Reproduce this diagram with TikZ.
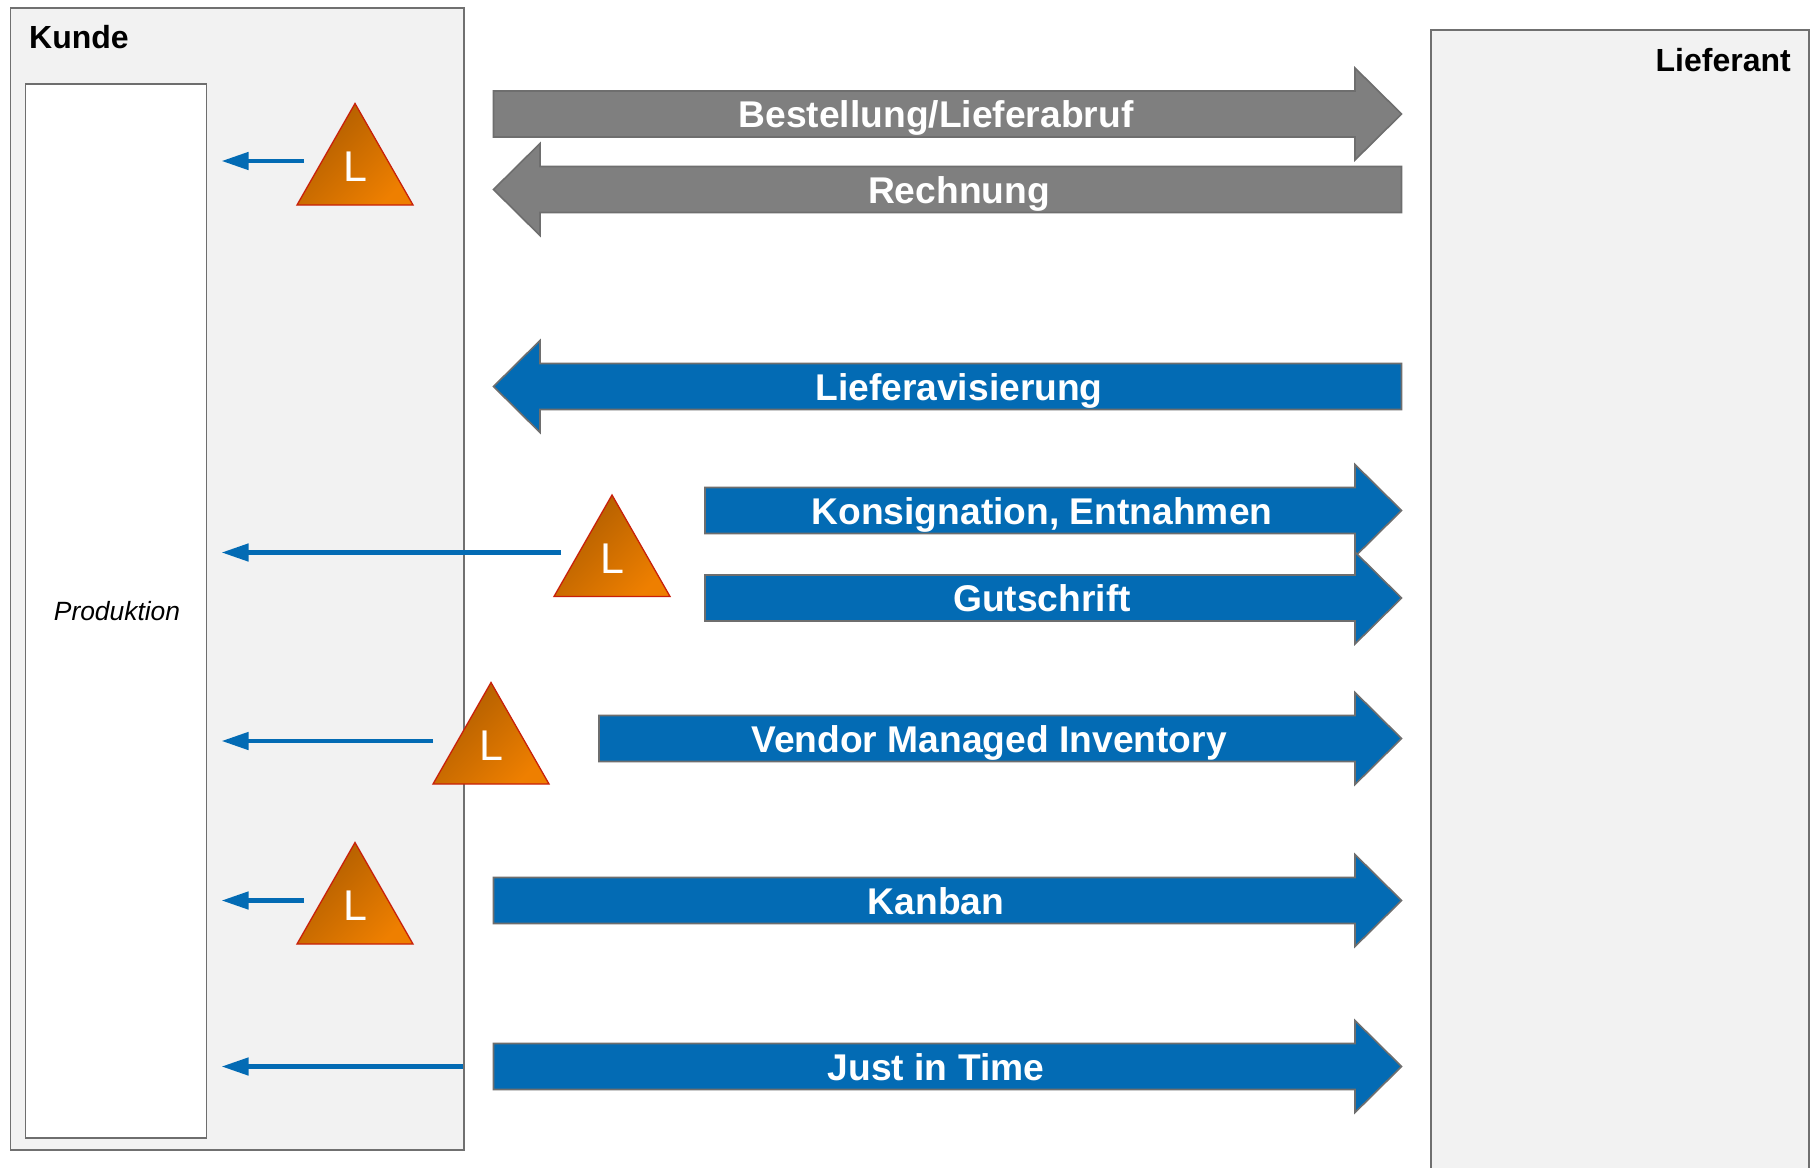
\documentclass[tikz,border=0pt]{standalone}
\usepackage{fontspec}
\setmainfont{Liberation Sans}
\usetikzlibrary{arrows.meta}
\definecolor{blk}{HTML}{036BB4}
\definecolor{gry}{HTML}{7F7F7F}
\definecolor{edge}{HTML}{6E6E6E}
\definecolor{panel}{HTML}{F2F2F2}
\definecolor{tridark}{HTML}{AD5C00}
\definecolor{trilight}{HTML}{EE7F00}
\definecolor{triedge}{HTML}{C8200A}
\tikzset{
  panelbox/.style={draw=edge!90!gray,line width=1.8pt,fill=panel},
  blockshape/.style={draw=edge,line width=1.6pt,line join=miter,fill=#1},
  blocklabel/.style={text=white,font=\bfseries\fontsize{37.2}{37}\selectfont,anchor=base,inner sep=0pt},
  titlelabel/.style={text=black,font=\bfseries\fontsize{32}{32}\selectfont,inner sep=0pt,anchor=base},
  trilabel/.style={text=white,font=\fontsize{43}{43}\selectfont,inner sep=0pt,anchor=base},
  flow/.style={draw=blk,fill=blk,line width=4.5pt,-{Triangle[length=27pt,width=17pt]}},
  trishape/.style={draw=triedge,line width=1.3pt,line join=miter,left color=tridark,right color=trilight,shading angle=45}
}
% right-pointing block arrow: #1 name, #2 colour, #3 x0, #4 x1, #5 yc, #6 label x, #7 text
\newcommand{\blockright}[7]{%
  \path[blockshape=#2] (#3,#5-23) -- (#4-46.5,#5-23) -- (#4-46.5,#5-46) -- (#4,#5) -- (#4-46.5,#5+46) -- (#4-46.5,#5+23) -- (#3,#5+23) -- cycle;
  \node[blocklabel] (#1) at (#6,#5+13.5) {#7};}
\newcommand{\blockleft}[7]{%
  \path[blockshape=#2] (#4,#5-23) -- (#3+46.5,#5-23) -- (#3+46.5,#5-46) -- (#3,#5) -- (#3+46.5,#5+46) -- (#3+46.5,#5+23) -- (#4,#5+23) -- cycle;
  \node[blocklabel] (#1) at (#6,#5+13.5) {#7};}
% triangle: #1 name, #2 apex x, #3 apex y
\newcommand{\lager}[3]{%
  \path[trishape] (#2,#3) -- (#2+58,#3+101.5) -- (#2-58,#3+101.5) -- cycle;
  \node[trilabel] (#1) at (#2+.5,#3+78) {L};}
\begin{document}
\begin{tikzpicture}[x=1pt,y=-1pt]
\useasboundingbox (0,0) rectangle (1814,1167);
\fill[white] (0,0) rectangle (1814,1167);
% panels
\node[panelbox,minimum width=453.5pt,minimum height=1142pt,inner sep=0pt,anchor=north west] (kunde) at (9.5,7) {};
\node[draw=edge,line width=1.6pt,fill=white,minimum width=181pt,minimum height=1054pt,inner sep=0pt,anchor=north west] (prod) at (24.5,83) {};
\fill[panel] (1431,30) rectangle (1809,1170);
\draw[edge!90!gray,line width=1.8pt] (1431,1175) -- (1431,30) -- (1809,30) -- (1809,1175);
\node[titlelabel,anchor=base west] (kundet) at (29,48) {Kunde};
\node[titlelabel,anchor=base east] (lief) at (1791,71) {Lieferant};
\node[inner sep=0pt,anchor=base,font=\itshape\fontsize{26.4}{27}\selectfont] (prodt) at (117,620) {Produktion};
% flows to production
\coordinate (a1) at (304,161); \coordinate (t1) at (221.5,161);
\coordinate (a2) at (561,552.5);   \coordinate (t2) at (221.5,552.5);
\coordinate (a3) at (433,741);   \coordinate (t3) at (221.5,741);
\coordinate (a4) at (304,900.5);   \coordinate (t4) at (221.5,900.5);
\coordinate (a5) at (463,1066.5);  \coordinate (t5) at (221.5,1066.5);
\draw[flow] (a1) -- (t1);
\draw[flow] (a2) -- (t2);
\draw[flow] (a3) -- (t3);
\draw[flow] (a4) -- (t4);
\draw[flow] (a5) -- (t5);
% stock triangles
\lager{l1}{355}{103.5}
\lager{l2}{612}{495}
\lager{l3}{491}{682.5}
\lager{l4}{355}{842.5}
% block arrows
\blockright{bes}{gry}{493.5}{1401.5}{114}{936}{Bestellung/Lieferabruf}
\blockleft{rec}{gry}{493.5}{1401.5}{189.5}{959}{Rechnung}
\blockleft{ava}{blk}{493.5}{1401.5}{386.5}{959}{Lieferavisierung}
\blockright{kon}{blk}{705}{1401.5}{510.5}{1042}{Konsignation, Entnahmen}
\blockright{gut}{blk}{705}{1401.5}{598}{1042}{Gutschrift}
\blockright{vmi}{blk}{599}{1401.5}{738.5}{989}{Vendor Managed Inventory}
\blockright{kan}{blk}{493.5}{1401.5}{900.5}{936}{Kanban}
\blockright{jit}{blk}{493.5}{1401.5}{1066.5}{936}{Just in Time}
\end{tikzpicture}
\end{document}
